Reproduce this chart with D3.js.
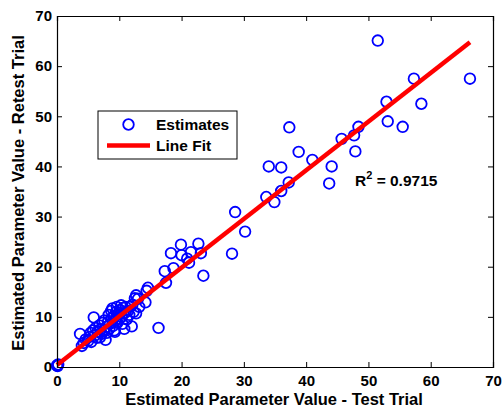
<!DOCTYPE html>
<html>
<head>
<meta charset="utf-8">
<script src="https://cdn.jsdelivr.net/npm/d3@7"></script>
<style>
  html, body { margin: 0; padding: 0; background: #fff; }
  svg { display: block; font-family: "Liberation Sans", Arial, sans-serif; }
</style>
</head>
<body>
<svg id="chart" width="504" height="412"></svg>
<script>
// Test-trial estimates (x) and retest-trial estimates (y)
const testValues = [
  0.0, 0.2, 0.1,
  3.7, 4.0, 4.3, 4.6, 5.0, 5.2, 5.4, 5.5, 5.8, 5.9, 6.0, 6.2, 6.4, 6.5, 6.8, 6.9, 7.0,
  7.2, 7.3, 7.5, 7.6, 7.8, 7.9, 8.0, 8.2, 8.3, 8.4, 8.5, 8.7, 8.8, 8.9, 9.0, 9.1,
  9.2, 9.3, 9.4, 9.5, 9.6, 9.7, 9.8, 10.0, 10.1, 10.3, 10.4, 10.5, 10.6, 10.8, 10.9,
  11.0, 11.2, 11.4, 11.6, 11.8, 12.0, 12.1, 12.3, 12.5, 12.7, 12.7, 13.0, 13.2,
  14.2, 14.4, 14.6, 16.3,
  17.3, 17.5, 18.3, 18.7, 19.9, 20.0, 20.9, 21.2, 21.5, 22.7, 23.1, 23.5,
  28.1, 28.6, 30.2, 33.6, 34.0, 34.9, 36.0, 36.0, 37.2, 37.3, 38.8, 41.0,
  43.7, 44.1, 45.7, 47.7, 47.9, 48.4, 51.5, 52.9, 53.1, 55.5, 57.3, 58.5, 66.3
];
const retestValues = [
  0.3, 0.5, 0.2,
  6.6, 4.2, 4.8, 5.5, 5.2, 6.0, 6.8, 5.0, 7.3, 9.9, 6.2, 7.8, 5.8, 7.0, 8.3, 5.9, 7.5,
  6.6, 8.8, 7.2, 9.3, 5.4, 8.0, 6.8, 9.0, 10.4, 7.6, 8.6, 11.2, 9.7, 11.7, 8.2, 10.1,
  7.3, 7.0, 9.4, 11.0, 12.0, 8.8, 10.5, 9.6, 11.4, 12.3, 10.0, 8.6, 11.8, 7.6, 10.8,
  12.0, 9.5, 11.2, 10.4, 12.1, 8.1, 12.4, 11.0, 13.7, 10.7, 14.3, 13.6, 12.0,
  12.9, 15.2, 15.8, 7.8,
  19.1, 16.8, 22.7, 19.7, 24.4, 22.3, 21.6, 20.8, 22.9, 24.6, 22.7, 18.2,
  22.6, 30.9, 27.0, 33.9, 40.0, 32.9, 39.8, 35.1, 36.8, 47.8, 42.9, 41.3,
  36.6, 40.0, 45.5, 46.2, 43.0, 47.9, 65.1, 52.9, 49.0, 47.9, 57.5, 52.5, 57.5
];

// Least-squares fit line and its reported R²
const fitX = [0, 66.3];
const fitIntercept = 0.4;
const fitSlope = 0.971;
const rSquaredText = "0.9715";

const xTicks = [0, 10, 20, 30, 40, 50, 60, 70];
const yTicks = [0, 10, 20, 30, 40, 50, 60, 70];

const xLabel = "Estimated Parameter Value - Test Trial";
const yLabel = "Estimated Parameter Value - Retest Trial";
const legendLabels = ["Estimates", "Line Fit"];

const svg = d3.select("#chart");
const plot = { left: 57, right: 493, top: 16, bottom: 367 };

const x = d3.scaleLinear().domain([0, 70]).range([plot.left, plot.right]);
const y = d3.scaleLinear().domain([0, 70]).range([plot.bottom, plot.top]);

const points = testValues.map((v, i) => ({ x: v, y: retestValues[i] }));

// scatter markers
svg.append("g")
  .selectAll("circle")
  .data(points)
  .join("circle")
  .attr("cx", d => x(d.x))
  .attr("cy", d => y(d.y))
  .attr("r", 5.3)
  .attr("fill", "none")
  .attr("stroke", "#0000ff")
  .attr("stroke-width", 1.8);

// fit line drawn over the markers
const fitPts = fitX.map(v => [v, fitIntercept + fitSlope * v]);
svg.append("path")
  .attr("d", d3.line().x(d => x(d[0])).y(d => y(d[1]))(fitPts))
  .attr("stroke", "#ff0000")
  .attr("stroke-width", 4.5)
  .attr("fill", "none");

// axes with inward ticks on all four sides
const tickLen = 5;
const axisFont = g => g.selectAll("text")
  .attr("font-size", 15).attr("font-weight", "bold").attr("fill", "#000")
  .attr("font-family", "Liberation Sans, Arial, sans-serif");

const gx = svg.append("g")
  .attr("transform", `translate(0,${plot.bottom})`)
  .call(d3.axisBottom(x).tickValues(xTicks).tickSize(-tickLen).tickPadding(8).tickFormat(d3.format("d")));
const gxTop = svg.append("g")
  .attr("transform", `translate(0,${plot.top})`)
  .call(d3.axisTop(x).tickValues(xTicks).tickSize(-tickLen).tickFormat(""));
const gy = svg.append("g")
  .attr("transform", `translate(${plot.left},0)`)
  .call(d3.axisLeft(y).tickValues(yTicks).tickSize(-tickLen).tickPadding(5).tickFormat(d3.format("d")));
const gyRight = svg.append("g")
  .attr("transform", `translate(${plot.right},0)`)
  .call(d3.axisRight(y).tickValues(yTicks).tickSize(-tickLen).tickFormat(""));

[gx, gxTop, gy, gyRight].forEach(g => {
  g.select(".domain").attr("stroke", "#000").attr("stroke-width", 1.2);
  g.selectAll(".tick line").attr("stroke", "#000").attr("stroke-width", 1);
  axisFont(g);
});
gx.selectAll("text").attr("dy", "0.71em");

// axis titles
svg.append("text")
  .attr("x", 274)
  .attr("y", 405)
  .attr("text-anchor", "middle")
  .attr("font-size", 16.5).attr("font-weight", "bold")
  .text(xLabel);

svg.append("text")
  .attr("transform", `translate(24,193) rotate(-90)`)
  .attr("text-anchor", "middle")
  .attr("font-size", 16.5).attr("font-weight", "bold")
  .text(yLabel);

// R² annotation
const rText = svg.append("text")
  .attr("x", 355)
  .attr("y", 186)
  .attr("font-size", 15.5).attr("font-weight", "bold");
rText.append("tspan").text("R");
rText.append("tspan").attr("dy", -7).attr("font-size", 11).text("2");
rText.append("tspan").attr("dy", 7).text(" = " + rSquaredText);

// legend
const legend = svg.append("g");
legend.append("rect")
  .attr("x", 98).attr("y", 111).attr("width", 139).attr("height", 48)
  .attr("fill", "#fff").attr("stroke", "#000").attr("stroke-width", 1);
legend.append("circle")
  .attr("cx", 128.5).attr("cy", 124.5).attr("r", 5.3)
  .attr("fill", "none").attr("stroke", "#0000ff").attr("stroke-width", 1.8);
legend.append("line")
  .attr("x1", 107).attr("x2", 150).attr("y1", 145.5).attr("y2", 145.5)
  .attr("stroke", "#ff0000").attr("stroke-width", 4.5);
legend.selectAll("text.lbl")
  .data(legendLabels)
  .join("text")
  .attr("class", "lbl")
  .attr("x", 156)
  .attr("y", (d, i) => 130 + i * 21)
  .attr("font-size", 15.5).attr("font-weight", "bold")
  .text(d => d);
</script>
</body>
</html>
